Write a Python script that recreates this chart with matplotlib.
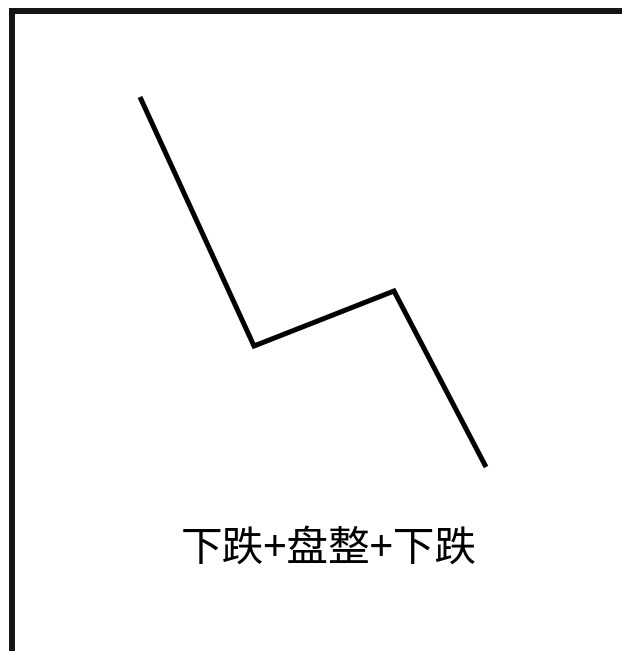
import matplotlib
matplotlib.use("Agg")
import matplotlib.pyplot as plt

plt.rcParams['font.family'] = ['Noto Sans CJK SC', 'DejaVu Sans']

# path of the price sketch (image pixel units, y grows downward)
x_vals = [140, 254, 394, 486]
y_vals = [97, 346, 291, 467]
label = "下跌+盘整+下跌"

W, H = 622, 651
fig = plt.figure(figsize=(W / 100, H / 100), dpi=100)

# frame edges: left at x=12, top at y=10.5
left, top = 12, 10.5
ax = fig.add_axes([left / W, 0, 1 - left / W, 1 - top / H])
ax.set_xlim(left, W)
ax.set_ylim(H, top)
for side in ['right', 'bottom']:
    ax.spines[side].set_visible(False)
for side in ['left', 'top']:
    ax.spines[side].set_linewidth(4.3)
    ax.spines[side].set_color('#141414')
ax.set_xticks([])
ax.set_yticks([])

ax.plot(x_vals, y_vals, color='black', linewidth=3.6,
        solid_joinstyle='miter', solid_capstyle='butt')

ax.text(329, 549, label, ha='center', va='center', fontsize=30,
        fontweight='light', color='black')

fig.savefig('out.png', dpi=100)
